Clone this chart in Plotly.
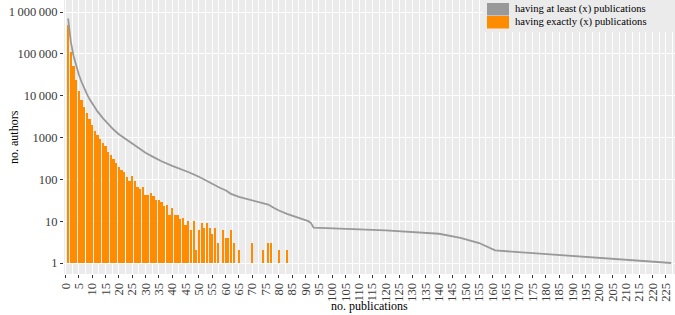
import plotly.graph_objects as go

# ---- data ----
exact_x = list(range(1, 66)) + [70, 74, 76, 77, 80, 83]
exact_counts = [500000, 113000, 50000, 24000, 13000, 8000, 5500, 3800, 2750, 2000,
                1460, 1150, 910, 735, 610, 460, 380, 300, 250, 200,
                167, 147, 116, 92, 123, 92, 65, 59, 66, 43,
                43, 47, 40, 32, 32, 29, 23, 25, 14, 21,
                14, 14, 11, 12, 8, 10, 6, 10, 2, 6,
                9, 7, 9, 7, 5, 7, 3, 0, 6, 4,
                4, 6, 3, 0, 2,
                3, 2, 3, 3, 2, 2]

atleast_x = [1, 2, 3, 4, 5, 6, 7, 8, 9, 10, 12, 14, 16, 18, 20, 22, 24, 26, 28, 30,
             33, 36, 40, 43, 46, 50, 53, 56, 58, 60, 62, 65, 68, 71, 74, 76, 78, 80,
             83, 86, 89, 91, 92, 93, 120, 140, 148, 155, 161, 227]
atleast_counts = [700000, 195000, 90000, 50000, 32000, 21500, 15000, 11000, 8300, 6500,
                  4200, 2900, 2100, 1550, 1200, 970, 800, 640, 520, 430,
                  340, 270, 210, 180, 150, 115, 90, 70, 62, 55, 45, 38, 34, 30, 27, 25, 21, 18,
                  15, 13, 11, 10, 9, 7, 6, 5, 4, 3, 2, 1]

y_tickvals = [1, 10, 100, 1000, 10000, 100000, 1000000]
y_ticktext = ["1", "10", "100", "1000", "10\u2009000", "100\u2009000", "1\u2009000\u2009000"]
x_tickvals = list(range(0, 226, 5))

legend_labels = ["having at least (x) publications", "having exactly (x) publications"]
colors = ["#999999", "#ff8c00"]

FONT = "Liberation Serif, Times New Roman, serif"

L, R, T, B = 64, 0, 0, 41
W, H = 675, 315
PW, PH = W - L - R, H - T - B

fig = go.Figure()

# bars start at 1 on the log axis
fig.add_trace(go.Bar(
    x=exact_x,
    y=[max(c - 1, 0) for c in exact_counts],
    base=1,
    width=0.8,
    marker=dict(color=colors[1], line=dict(width=0)),
    name=legend_labels[1],
    showlegend=False,
))

fig.add_trace(go.Scatter(
    x=atleast_x, y=atleast_counts, mode="lines",
    line=dict(color=colors[0], width=1.8),
    name=legend_labels[0],
    showlegend=False,
))

fig.update_layout(
    width=W, height=H,
    margin=dict(l=L, r=R, t=T, b=B, autoexpand=False),
    paper_bgcolor="white",
    plot_bgcolor="#ebebeb",
    font=dict(family=FONT, color="black", size=12),
    bargap=0,
)

fig.update_xaxes(
    range=[-0.55, 228.4],
    automargin=False,
    tickmode="array", tickvals=x_tickvals,
    ticktext=[str(v) for v in x_tickvals],
    tickangle=-90,
    ticks="outside", ticklen=3, tickcolor="#333333", tickwidth=1,
    tickfont=dict(family=FONT, size=12.5, color="#3a3a3a"),
    showgrid=True, gridcolor="white", gridwidth=1,
    minor=dict(dtick=2.5, tick0=0, showgrid=True, gridcolor="white", gridwidth=0.5),
    zeroline=False, showline=False,
)

fig.update_yaxes(
    type="log",
    automargin=False,
    range=[-0.263, 6.287],
    tickmode="array", tickvals=y_tickvals, ticktext=y_ticktext,
    ticks="outside", ticklen=3, tickcolor="#333333", tickwidth=1,
    tickfont=dict(family=FONT, size=12.5, color="#3a3a3a"),
    showgrid=True, gridcolor="white", gridwidth=1,
    zeroline=False, showline=False,
)

def px_x(px):
    return (px - L) / PW

def px_y(py):
    return 1 - (py - T) / PH

# legend drawn as in the reference (filled keys)
shapes = [
    dict(type="rect", xref="paper", yref="paper", x0=px_x(483), x1=1.0,
         y0=px_y(32), y1=1.0, fillcolor="#ebebeb", line=dict(width=0), layer="above"),
]
annotations = []
for i, (lab, col) in enumerate(zip(legend_labels, colors)):
    top = 3 + 13 * i
    shapes.append(dict(type="rect", xref="paper", yref="paper",
                       x0=px_x(487), x1=px_x(509),
                       y0=px_y(top + 12.5), y1=px_y(top),
                       fillcolor=col, line=dict(width=0), layer="above"))
    annotations.append(dict(xref="paper", yref="paper", x=px_x(513),
                            y=px_y(top + 6.25), text=lab, showarrow=False,
                            xanchor="left", yanchor="middle",
                            font=dict(family=FONT, size=10.6, color="black")))

# axis titles
annotations.append(dict(xref="paper", yref="paper", x=0.5, y=px_y(306),
                        text="no. publications", showarrow=False,
                        xanchor="center", yanchor="middle",
                        font=dict(family=FONT, size=12, color="black")))
annotations.append(dict(xref="paper", yref="paper", x=px_x(14), y=px_y(137),
                        text="no. authors", showarrow=False, textangle=-90,
                        xanchor="center", yanchor="middle",
                        font=dict(family=FONT, size=12, color="black")))
fig.update_layout(shapes=shapes, annotations=annotations)

fig.write_html(
    "out.html",
    config={"displayModeBar": False},
    post_script="document.body.style.margin='0';document.body.style.overflow='hidden';",
)
